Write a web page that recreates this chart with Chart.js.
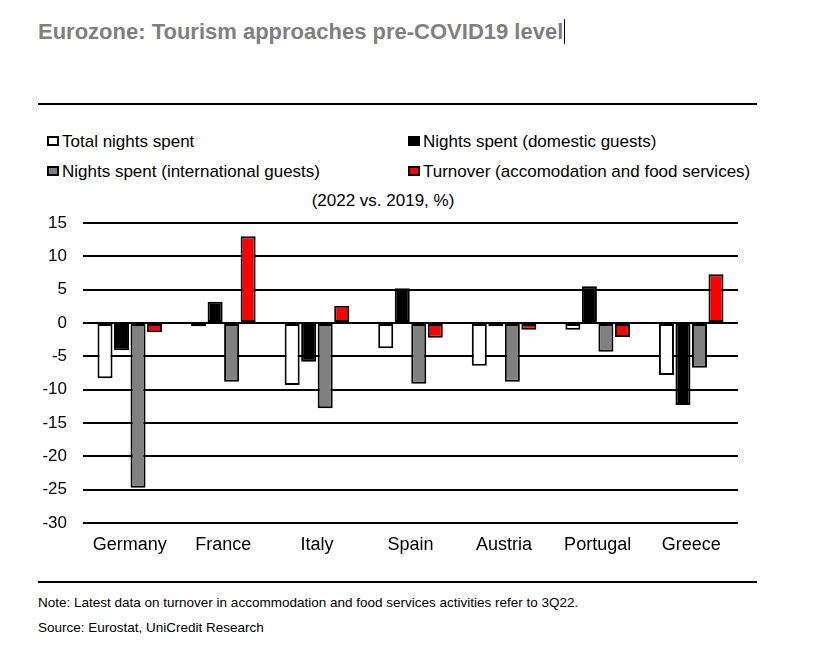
<!DOCTYPE html>
<html>
<head>
<meta charset="utf-8">
<script src="https://cdn.jsdelivr.net/npm/chart.js@4/dist/chart.umd.min.js"></script>
<style>
  html, body { margin: 0; padding: 0; background: #fff; }
  body { width: 813px; height: 646px; position: relative; overflow: hidden; font-family: "Liberation Sans", Arial, sans-serif; }
  #title { position: absolute; left: 38px; top: 19px; font-size: 22px; font-weight: bold; color: #7f7f7f; white-space: nowrap; line-height: 26px; }
  #title span { border-right: 1px solid #000; padding-right: 1px; }
  .rule { position: absolute; left: 38px; width: 719px; height: 2px; background: #000; }
  .leg { position: absolute; font-size: 17px; color: #000; white-space: nowrap; line-height: 20px; }
  .leg i { display: inline-block; width: 8px; height: 6px; border: 2px solid #000; margin-right: 3px; vertical-align: 1px; }
  #sub { position: absolute; left: 0; width: 766px; text-align: center; top: 191px; font-size: 17px; line-height: 20px; }
  .foot { position: absolute; left: 38px; font-size: 13.5px; color: #000; white-space: nowrap; line-height: 16px; }
  #wrap { position: absolute; left: 0; top: 0; width: 813px; height: 646px; }
</style>
</head>
<body>
<div id="title"><span>Eurozone: Tourism approaches pre-COVID19 level</span></div>
<div class="rule" style="top:103px"></div>
<div id="legend"></div>
<div id="sub">(2022 vs. 2019, %)</div>
<div class="rule" style="top:581px"></div>
<div class="foot" style="top:595px">Note: Latest data on turnover in accommodation and food services activities refer to 3Q22.</div>
<div class="foot" style="top:620px">Source: Eurostat, UniCredit Research</div>
<div id="wrap"><canvas id="c" width="813" height="646"></canvas></div>
<script>
const categories = ["Germany", "France", "Italy", "Spain", "Austria", "Portugal", "Greece"];
const seriesNames = ["Total nights spent", "Nights spent (domestic guests)", "Nights spent (international guests)", "Turnover (accomodation and food services)"];
const totalNights = [-8.3, -0.5, -9.3, -3.8, -6.4, -1.0, -7.8];
const domesticNights = [-4.1, 3.2, -5.8, 5.2, -0.5, 5.5, -12.3];
const internationalNights = [-24.7, -8.8, -12.8, -9.1, -8.8, -4.3, -6.7];
const turnover = [-1.4, 13.0, 2.6, -2.2, -1.0, -2.1, 7.3];
const yTicks = [15, 10, 5, 0, -5, -10, -15, -20, -25, -30];

const colors = ["#ffffff", "#000000", "#808080", "#ff0000"];
const seriesData = [totalNights, domesticNights, internationalNights, turnover];

// HTML legend (two columns)
const legPos = [[47, 132], [408, 132], [47, 162], [408, 162]];
const legEl = document.getElementById('legend');
seriesNames.forEach((name, i) => {
  const d = document.createElement('div');
  d.className = 'leg';
  d.style.left = legPos[i][0] + 'px';
  d.style.top = legPos[i][1] + 'px';
  d.innerHTML = '<i style="background:' + colors[i] + '"></i>' + name;
  legEl.appendChild(d);
});

new Chart(document.getElementById('c'), {
  type: 'bar',
  data: {
    labels: categories,
    datasets: seriesData.map((arr, i) => ({
      label: seriesNames[i],
      data: arr,
      backgroundColor: colors[i],
      borderColor: '#000',
      borderWidth: 2,
      borderSkipped: false,
      categoryPercentage: 0.706,
      barPercentage: 0.91
    }))
  },
  options: {
    responsive: false,
    animation: false,
    devicePixelRatio: 1,
    layout: { padding: { left: 0, right: 75, top: 223, bottom: 83 } },
    plugins: { legend: { display: false }, tooltip: { enabled: false }, title: { display: false } },
    scales: {
      x: {
        grid: { display: false, drawTicks: false },
        border: { display: false },
        ticks: { color: '#000', font: { family: 'Liberation Sans', size: 18 }, padding: 11 },
        afterFit: s => { s.height = 40; }
      },
      y: {
        min: -30, max: 15,
        afterBuildTicks: s => { s.ticks = yTicks.map(v => ({ value: v })); },
        grid: { color: '#000', lineWidth: 2, drawTicks: false },
        border: { display: false },
        ticks: { color: '#000', font: { family: 'Liberation Sans', size: 17 }, padding: 16 },
        afterFit: s => { s.width = 83; }
      }
    }
  }
});
</script>
</body>
</html>
